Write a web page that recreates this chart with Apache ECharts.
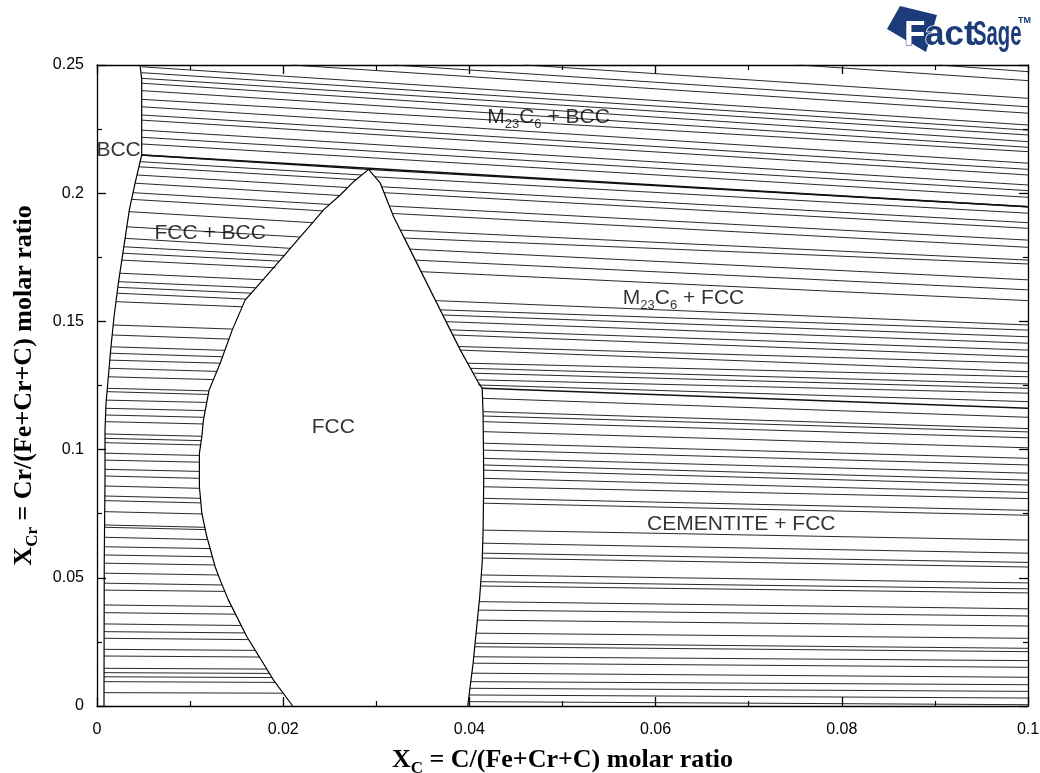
<!DOCTYPE html>
<html><head><meta charset="utf-8">
<script src="https://cdn.jsdelivr.net/npm/echarts@6/dist/echarts.min.js"></script>
<style>html,body{margin:0;padding:0;background:#fff}#c{width:1040px;height:773px}</style>
</head><body><div id="c"></div>
<script>
// ---------- data (data units: X_C, X_Cr) ----------
const xTickValues = [0, 0.02, 0.04, 0.06, 0.08, 0.1];
const yTickValues = [0, 0.05, 0.1, 0.15, 0.2, 0.25];

// phase boundaries
const bccBoundary = [[0.00462,0.25],[0.00480,0.2445],[0.00480,0.2149],[0.00409,0.2039],[0.00347,0.1934],[0.00283,0.1778],[0.00229,0.1648],[0.00183,0.1518],[0.00147,0.1389],[0.00122,0.1285],[0.00097,0.1181],[0.00086,0.1076],[0.00086,0.0881],[0.00078,0.0569],[0.00075,0]];
const fccLeftBoundary = [[0.02102,0],[0.01896,0.0101],[0.01753,0.0186],[0.01610,0.0270],[0.01412,0.0413],[0.01323,0.0491],[0.01269,0.0543],[0.01180,0.0660],[0.01126,0.0752],[0.01100,0.0855],[0.01100,0.0986],[0.01126,0.1050],[0.01143,0.1115],[0.01204,0.1232],[0.01323,0.1337],[0.01452,0.1466],[0.01591,0.1583],[0.01968,0.1739],[0.02183,0.1830],[0.02326,0.1889],[0.02433,0.1935],[0.02613,0.1993],[0.02756,0.2045],[0.02917,0.2093]];
const fccRightBoundary = [[0.02917,0.2093],[0.03043,0.2039],[0.03186,0.1908],[0.03366,0.1778],[0.03634,0.1583],[0.03903,0.1388],[0.04100,0.1259],[0.04137,0.1239],[0.04147,0.1142],[0.04154,0.0881],[0.04147,0.0686],[0.04137,0.0557],[0.04111,0.0426],[0.04075,0.0296],[0.04040,0.0167],[0.03982,0]];
// three-phase triangle edges
const threePhaseEdges = [
  [0.00480,0.2149,0.02917,0.2093],
  [0.00480,0.2149,0.1,0.1947],
  [0.02917,0.2093,0.1,0.1947],
  [0.04137,0.1239,0.1,0.1161]
];

// tie lines: [x1, y1, x2, y2]
const tieM23BccTop = [
  [0.0209,0.25,0.1,0.2312],[0.0319,0.25,0.1,0.2337],[0.0460,0.25,0.1,0.2370],[0.0754,0.25,0.1,0.2439],[0.0904,0.25,0.1,0.2474]
];
const tieM23Bcc = [
  [0.0048,0.2493,0.1,0.2266],[0.0048,0.2470,0.1,0.2246],[0.0048,0.2448,0.1,0.2227],[0.0048,0.2429,0.1,0.2201],
  [0.0048,0.2400,0.1,0.2179],[0.0048,0.2366,0.1,0.2162],[0.0048,0.2337,0.1,0.2117],[0.0048,0.2305,0.1,0.2093],
  [0.0048,0.2285,0.1,0.2071],[0.0048,0.2246,0.1,0.2032],[0.0048,0.2218,0.1,0.2010],[0.0048,0.2192,0.1,0.1984]
];
const tieM23Fcc = [
  [0.02984,0.2064,0.1,0.1922],[0.03058,0.2025,0.1,0.1885],[0.03083,0.2002,0.1,0.1863],[0.03140,0.1950,0.1,0.1817],
  [0.03172,0.1921,0.1,0.1789],[0.03258,0.1856,0.1,0.1739],[0.03301,0.1825,0.1,0.1724],[0.03360,0.1782,0.1,0.1662],
  [0.03419,0.1739,0.1,0.1623],[0.03483,0.1694,0.1,0.1581],[0.03639,0.1581,0.1,0.1486],[0.03688,0.1545,0.1,0.1466],
  [0.03715,0.1525,0.1,0.1440],[0.03752,0.1499,0.1,0.1415],[0.03796,0.1467,0.1,0.1388],[0.03823,0.1447,0.1,0.1362],
  [0.03886,0.1402,0.1,0.1337],[0.03903,0.1388,0.1,0.1304],[0.03982,0.1337,0.1,0.1284],[0.04012,0.1317,0.1,0.1256],
  [0.04041,0.1298,0.1,0.1239],[0.04081,0.1272,0.1,0.1220],[0.04094,0.1252,0.1,0.1187]
];
const tieFccBcc = [
  [0.00463,0.2123,0.02843,0.2071],[0.00451,0.2103,0.02780,0.2053],[0.00430,0.2071,0.02693,0.2022],[0.00409,0.2039,0.02605,0.1991],
  [0.00387,0.2002,0.02498,0.1956],[0.00372,0.1976,0.02426,0.1931],[0.00344,0.1928,0.02317,0.1885],[0.00320,0.1869,0.02180,0.1829],
  [0.00302,0.1824,0.02077,0.1785],[0.00288,0.1791,0.02010,0.1757],[0.00277,0.1766,0.01960,0.1735],[0.00267,0.1739,0.01918,0.1709],
  [0.00245,0.1688,0.01797,0.1662],[0.00231,0.1655,0.01715,0.1631],[0.00224,0.1633,0.01659,0.1610],[0.00215,0.1610,0.01602,0.1587],
  [0.00203,0.1577,0.01560,0.1557],[0.00174,0.1486,0.01455,0.1470],[0.00163,0.1447,0.01417,0.1431],[0.00151,0.1401,0.01372,0.1387],
  [0.00144,0.1376,0.01347,0.1362],[0.00138,0.1349,0.01323,0.1337],[0.00130,0.1317,0.01287,0.1305],[0.00122,0.1284,0.01249,0.1273],
  [0.00111,0.1239,0.01202,0.1229],[0.00108,0.1226,0.01195,0.1215],[0.00100,0.1193,0.01178,0.1184],[0.00095,0.1161,0.01162,0.1152],
  [0.00092,0.1135,0.01148,0.1126],[0.00089,0.1109,0.01139,0.1100],[0.00086,0.1061,0.01126,0.1052],[0.00086,0.1044,0.01120,0.1035],
  [0.00086,0.1027,0.01113,0.1018],[0.00086,0.0986,0.01100,0.0977],[0.00086,0.0959,0.01100,0.0951],[0.00086,0.0923,0.01100,0.0915],
  [0.00086,0.0897,0.01100,0.0888],[0.00085,0.0858,0.01101,0.0849],[0.00084,0.0819,0.01111,0.0810],[0.00084,0.0801,0.01116,0.0792],
  [0.00083,0.0758,0.01128,0.0749],[0.00082,0.0706,0.01158,0.0697],[0.00082,0.0697,0.01163,0.0688],[0.00081,0.0658,0.01188,0.0649],
  [0.00080,0.0621,0.01215,0.0614],[0.00079,0.0589,0.01240,0.0582],[0.00078,0.0557,0.01263,0.0550],[0.00078,0.0518,0.01302,0.0511],
  [0.00078,0.0479,0.01345,0.0472],[0.00078,0.0452,0.01374,0.0447],[0.00077,0.0394,0.01447,0.0388],[0.00077,0.0364,0.01488,0.0358],
  [0.00077,0.0320,0.01549,0.0314],[0.00077,0.0290,0.01589,0.0285],[0.00076,0.0264,0.01620,0.0259],[0.00076,0.0221,0.01700,0.0217],
  [0.00076,0.0195,0.01744,0.0191],[0.00076,0.0147,0.01825,0.0144],[0.00075,0.0130,0.01853,0.0127],[0.00075,0.0114,0.01880,0.0111],
  [0.00075,0.0095,0.01915,0.0092],[0.00075,0.0052,0.02001,0.0050]
];
const tieCementiteFcc = [
  [0.04141,0.1200,0.1,0.1126],[0.04146,0.1148,0.1,0.1082],[0.04147,0.1131,0.1,0.1069],[0.04148,0.1109,0.1,0.1046],
  [0.04150,0.1070,0.1,0.1007],[0.04151,0.1025,0.1,0.0966],[0.04151,0.0998,0.1,0.0940],[0.04152,0.0966,0.1,0.0908],
  [0.04153,0.0940,0.1,0.0881],[0.04153,0.0920,0.1,0.0862],[0.04154,0.0888,0.1,0.0833],[0.04153,0.0855,0.1,0.0809],
  [0.04151,0.0810,0.1,0.0763],[0.04150,0.0791,0.1,0.0744],[0.04147,0.0686,0.1,0.0647],[0.04143,0.0635,0.1,0.0596],
  [0.04140,0.0596,0.1,0.0560],[0.04139,0.0577,0.1,0.0542],[0.04128,0.0511,0.1,0.0480],[0.04123,0.0485,0.1,0.0457],
  [0.04119,0.0468,0.1,0.0441],[0.04106,0.0407,0.1,0.0379],[0.04097,0.0374,0.1,0.0351],[0.04086,0.0335,0.1,0.0312],
  [0.04072,0.0284,0.1,0.0264],[0.04061,0.0245,0.1,0.0225],[0.04058,0.0231,0.1,0.0212],[0.04047,0.0192,0.1,0.0177],
  [0.04040,0.0167,0.1,0.0151],[0.04026,0.0128,0.1,0.0112],[0.04015,0.0095,0.1,0.0083],[0.04006,0.0069,0.1,0.0057],
  [0.03997,0.0043,0.1,0.0031],[0.03988,0.0017,0.1,0.0005]
];

// region labels: [x, y, text]
const regionLabels = [
  [0.00232, 0.2168, '{n|BCC}'],
  [0.01215, 0.1845, '{n|FCC + BCC}'],
  [0.0485, 0.2297, '{n|M}{s|23}{n|C}{s|6}{n| + BCC}'],
  [0.0630, 0.1591, '{n|M}{s|23}{n|C}{s|6}{n| + FCC}'],
  [0.02538, 0.1088, '{n|FCC}'],
  [0.0692, 0.0710, '{n|CEMENTITE + FCC}']
];

// ---------- chart ----------
const SANS = "'Liberation Sans', Arial, sans-serif";
const SERIF = "'Liberation Serif', 'Times New Roman', serif";
const chart = echarts.init(document.getElementById('c'));

function segs(rows){ return rows.map(r => ({coords: [[r[0], r[1]], [r[2], r[3]]]})); }
function tieSeries(rows, w){
  return {type:'lines', coordinateSystem:'cartesian2d', polyline:false, silent:true, animation:false,
    data: segs(rows), lineStyle:{color:'#111', width:w || 0.9, opacity:1}, z:2};
}
function boundary(pts){
  return {type:'line', data: pts, showSymbol:false, silent:true, animation:false,
    lineStyle:{color:'#000', width:1.2}, z:3};
}
const axisLineStyle = {color:'#000', width:1.3};
function xAx(pos, labels){
  return {type:'value', position:pos, min:0, max:0.1, interval:0.02,
    axisLine:{show:true, onZero:false, lineStyle:axisLineStyle},
    axisTick:{show:true, inside:true, length:9, lineStyle:{color:'#000', width:1.3}},
    minorTick:{show:true, splitNumber:2, length:5, lineStyle:{color:'#000', width:1.2}},
    splitLine:{show:false},
    axisLabel:{show:labels, color:'#000', fontSize:16, fontFamily:SANS, margin:16,
      formatter: v => String(v)},
  };
}
function yAx(pos, labels){
  return {type:'value', position:pos, min:0, max:0.25, interval:0.05,
    axisLine:{show:true, onZero:false, lineStyle:axisLineStyle},
    axisTick:{show:true, inside:true, length:9, lineStyle:{color:'#000', width:1.3}},
    minorTick:{show:true, splitNumber:2, length:5, lineStyle:{color:'#000', width:1.2}},
    splitLine:{show:false},
    axisLabel:{show:labels, color:'#000', fontSize:16, fontFamily:SANS, margin:13,
      formatter: v => String(v)},
  };
}
const titleRich = {
  b:{fontFamily:SERIF, fontWeight:'bold', fontSize:26, lineHeight:34, color:'#000'},
  s:{fontFamily:SERIF, fontWeight:'bold', fontSize:17, lineHeight:17, padding:[17,0,0,0], color:'#000'}
};
const xMain = xAx('bottom', true);
xMain.name = '{b|X}{s|C}{b| = C/(Fe+Cr+C) molar ratio}';
xMain.nameLocation = 'middle';
xMain.nameGap = 34;
xMain.nameTextStyle = {rich:titleRich};
const yMain = yAx('left', true);
yMain.name = '{b|X}{s|Cr}{b| = Cr/(Fe+Cr+C) molar ratio}';
yMain.nameLocation = 'middle';
yMain.nameGap = 56;
yMain.nameRotate = 90;
yMain.nameTextStyle = {rich:titleRich};

const labelRich = {
  n:{fontFamily:SANS, fontSize:21, lineHeight:28, color:'#000', textBorderWidth:0},
  s:{fontFamily:SANS, fontSize:13, lineHeight:13, padding:[15,0,0,0], color:'#000', textBorderWidth:0}
};

const navy = '#1b3c78';
chart.setOption({
  animation:false,
  backgroundColor:'#fff',
  grid:{left:97, right:12, top:65, bottom:67, containLabel:false, outerBoundsMode:'none'},
  xAxis:[xMain, xAx('top', false)],
  yAxis:[yMain, yAx('right', false)],
  series:[
    tieSeries(tieM23BccTop),
    tieSeries(tieM23Bcc),
    tieSeries(tieM23Fcc),
    tieSeries(tieFccBcc),
    tieSeries(tieCementiteFcc),
    tieSeries(threePhaseEdges, 1.4),
    boundary(bccBoundary),
    boundary(fccLeftBoundary),
    boundary(fccRightBoundary),
    {type:'scatter', symbolSize:0, silent:true, animation:false, z:5,
      data: regionLabels.map(l => ({value:[l[0], l[1]], label:{show:true, position:'inside', color:'#000',
        textBorderWidth:0, textShadowBlur:0, formatter:l[2], rich:labelRich}}))}
  ],
  graphic:[
    {type:'polygon', shape:{points:[[900,6],[937,15],[926,52],[887,29]]}, style:{fill:navy}, z:10},
    {type:'text', x:904, y:18, z:11, style:{text:'F', font:"bold 35px 'Liberation Sans', Arial", fill:'#fff', stroke:navy, lineWidth:1}},
    {type:'text', x:925, y:18, z:11, style:{text:'act', font:"bold 35px 'Liberation Sans', Arial", fill:navy, stroke:'#fff', lineWidth:1.5}},
    {type:'text', x:973, y:18, z:11, scaleX:0.58, style:{text:'Sage', font:"bold 35px 'Liberation Sans', Arial", fill:navy}},
    {type:'text', x:1018, y:16, z:11, style:{text:'TM', font:"bold 9px 'Liberation Sans', Arial", fill:navy}}
  ]
});
</script>
</body></html>
